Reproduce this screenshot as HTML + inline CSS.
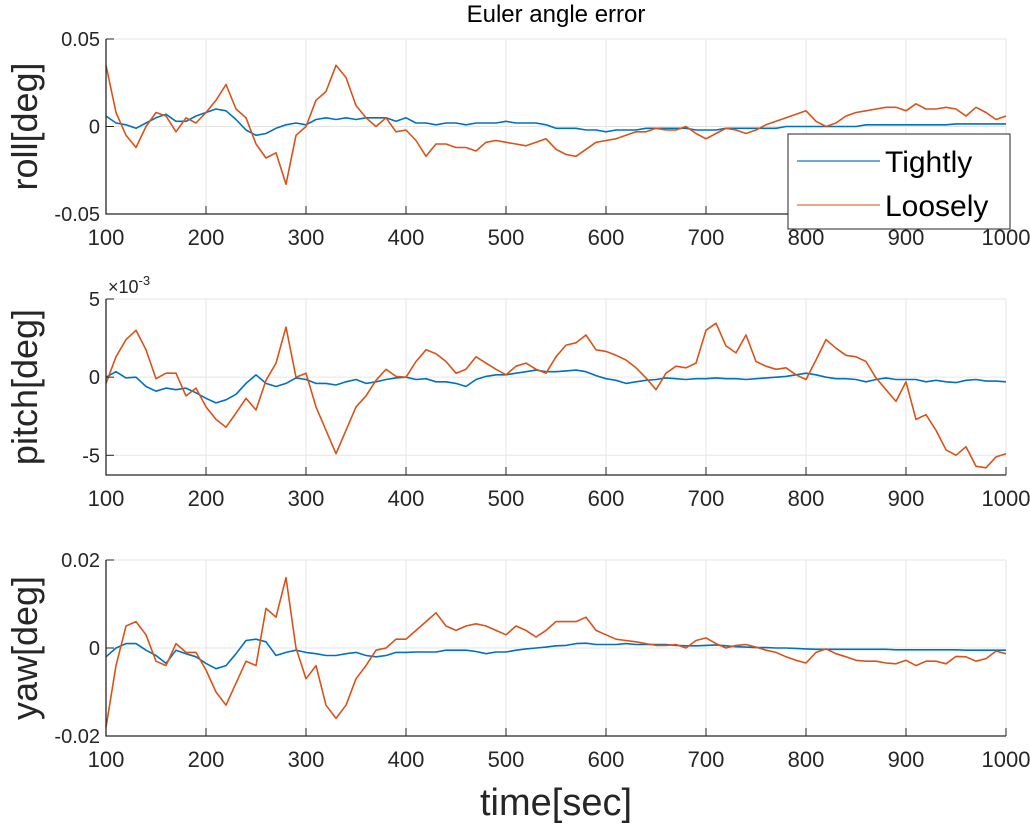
<!DOCTYPE html>
<html><head><meta charset="utf-8"><style>
html,body{margin:0;padding:0;background:#fff;}
svg{display:block;font-family:"Liberation Sans",Arial,sans-serif;}
</style></head><body>
<svg id="fig" width="1030" height="825" viewBox="0 0 1030 825" xmlns="http://www.w3.org/2000/svg">
<text x="556" y="22" font-size="24" text-anchor="middle" fill="#000">Euler angle error</text>
<text x="556" y="815" font-size="38" text-anchor="middle" fill="#262626">time[sec]</text>
</svg>
<script>
const timeTicks = [100,200,300,400,500,600,700,800,900,1000];
const times = [];
for (let t = 100; t <= 1000; t += 10) times.push(t);

const rollTight = [0.006,0.002,0.001,-0.001,0.002,0.005,0.007,0.003,0.003,0.006,0.008,0.010,0.009,0.004,-0.002,-0.005,-0.004,-0.001,0.001,0.002,0.001,0.004,0.005,0.004,0.005,0.004,0.005,0.005,0.005,0.003,
0.005,0.002,0.002,0.001,0.002,0.002,0.001,0.002,0.002,0.002,0.003,0.002,0.002,0.002,0.001,-0.001,-0.001,-0.001,-0.002,-0.002,-0.003,-0.002,-0.002,-0.002,-0.001,-0.001,-0.001,-0.001,-0.001,-0.002,-0.002,-0.002,-0.001,-0.001,-0.001,-0.001,-0.001,-0.001,0,0,0,0,0,0,0,0,0.001,0.001,0.001,0.001,0.001,0.001,0.001,0.001,0.001,0.0015,0.0015,0.0015,0.0015,0.0015,0.0015];
const rollLoose = [0.035,0.008,-0.005,-0.012,0.0,0.008,0.006,-0.003,0.005,0.002,0.008,0.015,0.024,0.01,0.005,-0.01,-0.018,-0.015,-0.033,-0.005,0.0,0.015,0.02,0.035,0.028,0.012,0.005,0.0,0.005,-0.003,
-0.002,-0.008,-0.017,-0.010,-0.010,-0.012,-0.012,-0.014,-0.009,-0.008,-0.009,-0.010,-0.011,-0.009,-0.007,-0.013,-0.016,-0.017,-0.013,-0.009,-0.008,-0.007,-0.005,-0.003,-0.003,-0.001,-0.002,-0.002,0,-0.004,-0.007,-0.004,-0.001,-0.002,-0.004,-0.002,0.001,0.003,0.005,0.007,0.009,0.003,0,0.002,0.006,0.008,0.009,0.010,0.011,0.011,0.009,0.013,0.010,0.010,0.011,0.010,0.006,0.011,0.008,0.004,0.006];

const pitchTight = [0.0,0.35,-0.05,0,-0.6,-0.9,-0.7,-0.8,-0.7,-1.0,-1.35,-1.65,-1.45,-1.1,-0.4,0.15,-0.4,-0.6,-0.4,-0.05,-0.15,-0.4,-0.4,-0.5,-0.3,-0.15,-0.4,-0.3,-0.15,-0.05,
0,-0.15,-0.1,-0.3,-0.3,-0.4,-0.6,-0.15,0.05,0.15,0.15,0.25,0.35,0.45,0.35,0.35,0.4,0.45,0.35,0.1,-0.1,-0.2,-0.4,-0.3,-0.2,-0.15,-0.05,-0.1,-0.15,-0.1,-0.1,-0.05,-0.1,-0.1,-0.15,-0.1,-0.05,0,0.05,0.15,0.25,0.15,0,-0.1,-0.1,-0.15,-0.3,-0.15,-0.05,-0.15,-0.15,-0.15,-0.3,-0.2,-0.3,-0.35,-0.2,-0.15,-0.25,-0.25,-0.3];
const pitchLoose = [-0.4,1.3,2.4,3.0,1.75,-0.1,0.25,0.25,-1.2,-0.7,-1.9,-2.7,-3.2,-2.3,-1.35,-2.1,-0.2,0.9,3.2,0,0.25,-1.9,-3.4,-4.9,-3.4,-1.9,-1.2,-0.2,0.5,0.05,
0,1.0,1.75,1.5,1.0,0.25,0.5,1.3,0.9,0.5,0.15,0.7,0.9,0.5,0.25,1.3,2.05,2.2,2.7,1.75,1.65,1.4,1.1,0.6,-0.05,-0.8,0.25,0.7,0.6,0.9,3.0,3.45,2.0,1.55,2.7,1.0,0.7,0.5,0.6,0.15,-0.15,1.1,2.4,1.85,1.4,1.3,1.0,-0.05,-0.8,-1.55,-0.3,-2.7,-2.4,-3.4,-4.65,-5.0,-4.45,-5.7,-5.8,-5.1,-4.9];

const yawTight = [-0.002,0,0.001,0.001,-0.0005,-0.0017,-0.0035,-0.0005,-0.0013,-0.002,-0.0035,-0.0047,-0.004,-0.0013,0.0017,0.002,0.0014,-0.0017,-0.001,-0.0005,-0.001,-0.0013,-0.0017,-0.0017,-0.0013,-0.001,-0.0017,-0.002,-0.0017,-0.001,
-0.001,-0.0009,-0.0009,-0.0009,-0.0005,-0.0005,-0.0005,-0.0008,-0.0013,-0.0009,-0.0009,-0.0005,-0.0002,0,0.0002,0.0005,0.0006,0.001,0.0011,0.0008,0.0008,0.0008,0.001,0.0008,0.0008,0.0008,0.0008,0.0006,0.0005,0.0005,0.0006,0.0007,0.0005,0.0003,0.0002,0.0001,0.0001,0,0,-0.0001,-0.0002,-0.0003,-0.0003,-0.0003,-0.0003,-0.0003,-0.0003,-0.0003,-0.0003,-0.0004,-0.0004,-0.0004,-0.0004,-0.0004,-0.0004,-0.0004,-0.0005,-0.0005,-0.0005,-0.0005,-0.0005];
const yawLoose = [-0.018,-0.004,0.005,0.006,0.003,-0.003,-0.004,0.001,-0.001,-0.001,-0.005,-0.010,-0.013,-0.008,-0.003,-0.004,0.009,0.007,0.016,0,-0.007,-0.004,-0.013,-0.016,-0.013,-0.007,-0.004,-0.0005,0,0.002,
0.002,0.004,0.006,0.008,0.005,0.004,0.005,0.0055,0.005,0.004,0.003,0.005,0.004,0.0025,0.004,0.006,0.006,0.006,0.007,0.004,0.003,0.002,0.0017,0.0014,0.001,0.0006,0.0006,0.0008,0,0.0017,0.0023,0.001,0,0.0006,0.0008,0.0002,-0.0005,-0.001,-0.002,-0.0028,-0.0034,-0.001,-0.0002,-0.0013,-0.002,-0.0028,-0.003,-0.003,-0.0034,-0.0036,-0.0028,-0.004,-0.003,-0.003,-0.0036,-0.0019,-0.002,-0.003,-0.0024,-0.0007,-0.0013];

const rollTickVals = [-0.05,0,0.05];
const rollTickLabels = ["-0.05","0","0.05"];
const pitchTickVals = [-5,0,5];
const pitchTickLabels = ["-5","0","5"];
const yawTickVals = [-0.02,0,0.02];
const yawTickLabels = ["-0.02","0","0.02"];

const NS = "http://www.w3.org/2000/svg";
const svg = document.getElementById('fig');
const X0 = 106, X1 = 1006, XMIN = 100, XMAX = 1000;
function xs(t){ return X0 + (t - XMIN) / (XMAX - XMIN) * (X1 - X0); }
function mk(tag, attrs){ const e = document.createElementNS(NS, tag); for (const k in attrs) e.setAttribute(k, attrs[k]); svg.appendChild(e); return e; }

function panel(name, top, bottom, ymin, ymax, tickVals, tickLabels, ylabel, tight, loose){
  const ys = v => bottom - (v - ymin) / (ymax - ymin) * (bottom - top);
  timeTicks.forEach(t => {
    const g = mk('line', {x1: xs(t), x2: xs(t), y1: top, y2: bottom, stroke: '#e5e5e5', 'stroke-width': 1});
    
    
  });
  tickVals.forEach(v => {
    const g = mk('line', {x1: X0, x2: X1, y1: ys(v), y2: ys(v), stroke: '#e5e5e5', 'stroke-width': 1});
    
    
  });
  const mkLine = (vals, color, sname) => {
    const d = vals.map((v, i) => (i ? 'L' : 'M') + xs(times[i]).toFixed(1) + ' ' + ys(v).toFixed(1)).join(' ');
    const p = mk('path', {d: d, fill: 'none', stroke: color, 'stroke-width': 1.6, 'stroke-linejoin': 'round'});
    
    
  };
  mkLine(tight, '#0072BD', 'tightly');
  mkLine(loose, '#D95319', 'loosely');
  const ax = mk('path', {d: `M${X0} ${top} L${X0} ${bottom} L${X1} ${bottom}`, fill: 'none', stroke: '#262626', 'stroke-width': 1.3});
  
  
  timeTicks.forEach(t => {
    const tk = mk('line', {x1: xs(t), x2: xs(t), y1: bottom, y2: bottom - 8, stroke: '#262626', 'stroke-width': 1});
    
    
    const lb = mk('text', {x: xs(t), y: bottom + 31, 'font-size': 22, 'text-anchor': 'middle', fill: '#262626'});
    lb.textContent = String(t);
    
    
  });
  tickVals.forEach((v, i) => {
    const tk = mk('line', {x1: X0, x2: X0 + 8, y1: ys(v), y2: ys(v), stroke: '#262626', 'stroke-width': 1});
    
    
    const lb = mk('text', {x: X0 - 6, y: ys(v) + 7, 'font-size': 20, 'text-anchor': 'end', fill: '#262626'});
    lb.textContent = tickLabels[i];
    
    
  });
  const yl = mk('text', {x: 0, y: 0, 'font-size': 36, 'text-anchor': 'middle', fill: '#262626', transform: `translate(37 ${(top + bottom) / 2}) rotate(-90)`});
  yl.textContent = ylabel;
  
  
}

panel('roll', 39, 214, -0.05, 0.05, rollTickVals, rollTickLabels, 'roll[deg]', rollTight, rollLoose);
panel('pitch', 299, 475, -6.26, 5, pitchTickVals, pitchTickLabels, 'pitch[deg]', pitchTight, pitchLoose);
panel('yaw', 560, 736, -0.02, 0.02, yawTickVals, yawTickLabels, 'yaw[deg]', yawTight, yawLoose);

const exp = mk('text', {x: 108, y: 293, 'font-size': 18, fill: '#262626'});


exp.innerHTML = '×10<tspan dy="-8" font-size="13">-3</tspan>';

const lg = mk('rect', {x: 788, y: 134, width: 222, height: 95, fill: '#fff', stroke: '#262626', 'stroke-width': 1});


const legendItems = [['Tightly', '#3a8fcc', 161], ['Loosely', '#e88a66', 205]];
legendItems.forEach(([label, color, y]) => {
  const l = mk('line', {x1: 797, x2: 880, y1: y, y2: y, stroke: color, 'stroke-width': 1.4});
  
  
  const t = mk('text', {x: 885, y: y + 11, 'font-size': 30, fill: '#000'});
  t.textContent = label;
  
  
});
</script>
</body></html>
